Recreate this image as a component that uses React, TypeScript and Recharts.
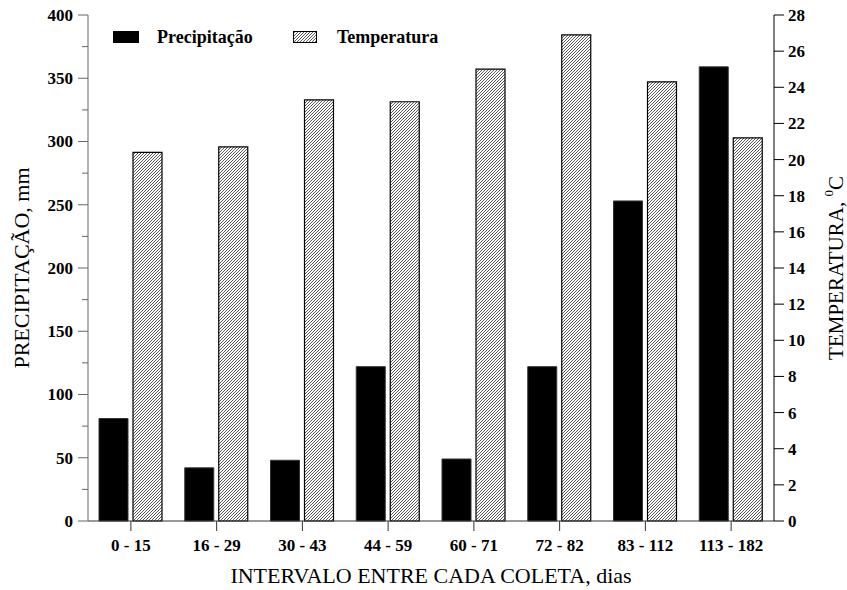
// Precipitation and temperature per sampling interval, dual-axis bar chart.
import { BarChart, Bar, XAxis, YAxis, Legend, Label } from "recharts";

const categories = ["0 - 15", "16 - 29", "30 - 43", "44 - 59", "60 - 71", "72 - 82", "83 - 112", "113 - 182"];
const precipitacao = [81, 42, 48, 122, 49, 122, 253, 359];
const temperatura = [20.4, 20.7, 23.3, 23.2, 25.0, 26.9, 24.3, 21.2];
const leftTicks = [0, 25, 50, 75, 100, 125, 150, 175, 200, 225, 250, 275, 300, 325, 350, 375, 400];
const rightTicks = [0, 2, 4, 6, 8, 10, 12, 14, 16, 18, 20, 22, 24, 26, 28];

const data = categories.map((intervalo, i) => ({
  intervalo,
  precipitacao: precipitacao[i],
  temperatura: temperatura[i],
}));

const FONT = '"Liberation Serif", "Times New Roman", serif';
const WIDTH = 847;
const HEIGHT = 590;
const MARGIN = { top: 15, right: 5, bottom: 0, left: 5 };
const LEFT_W = 83;
const RIGHT_W = 68;
const X_H = 69;
const AXIS_X = MARGIN.left + LEFT_W;
const PLOT_MID_Y = MARGIN.top + (HEIGHT - MARGIN.top - MARGIN.bottom - X_H) / 2;
const HATCH = "M0,3 L3,0 M-1,1 L1,-1 M2,4 L4,2";

const LeftTick = (props: any) => {
  const { y, payload } = props;
  const v = payload.value;
  const major = v % 50 === 0;
  return (
    <g>
      <line x1={AXIS_X - (major ? 10 : 6)} x2={AXIS_X} y1={y} y2={y} stroke="#666" />
      {major && (
        <text
          x={AXIS_X - 15}
          y={y}
          dy="0.35em"
          textAnchor="end"
          fontFamily={FONT}
          fontSize={17}
          fontWeight="bold"
          fill="#000"
        >
          {v}
        </text>
      )}
    </g>
  );
};

const LeftTitle = () => {
  const cx = 21;
  const cy = PLOT_MID_Y;
  return (
    <text
      x={cx}
      y={cy}
      transform={`rotate(-90 ${cx} ${cy})`}
      textAnchor="middle"
      dominantBaseline="central"
      fontFamily={FONT}
      fontSize={22}
      fill="#000"
    >
      PRECIPITAÇÃO, mm
    </text>
  );
};

const RightTitle = () => {
  const cx = WIDTH - 11;
  const cy = PLOT_MID_Y;
  return (
    <text
      x={cx}
      y={cy}
      transform={`rotate(-90 ${cx} ${cy})`}
      textAnchor="middle"
      dominantBaseline="central"
      fontFamily={FONT}
      fontSize={21}
      fill="#000"
    >
      TEMPERATURA,{" "}
      <tspan fontSize={13} dy={-8}>
        0
      </tspan>
      <tspan dy={8}>C</tspan>
    </text>
  );
};

const HatchSwatch = ({ w, h, id }: { w: number; h: number; id: string }) => (
  <svg width={w} height={h} style={{ display: "block" }}>
    <defs>
      <pattern id={id} width={3} height={3} patternUnits="userSpaceOnUse">
        <rect width={3} height={3} fill="#fff" />
        <path d={HATCH} stroke="#000" strokeWidth={0.65} />
      </pattern>
    </defs>
    <rect x={0.5} y={0.5} width={w - 1} height={h - 1} fill={`url(#${id})`} stroke="#000" />
  </svg>
);

const LegendContent = (props: any) => {
  const payload = props.payload || [];
  const lefts = [0, 180];
  return (
    <div style={{ position: "relative", width: 400, height: 24, fontFamily: FONT, fontWeight: "bold", fontSize: 18 }}>
      {payload.map((entry: any, i: number) => (
        <div key={entry.value} style={{ position: "absolute", left: lefts[i], top: 0, height: 24 }}>
          <div style={{ position: "absolute", left: 0, top: 6 }}>
            {entry.dataKey === "precipitacao" ? (
              <div style={{ width: 26, height: 12, background: "#000" }} />
            ) : (
              <HatchSwatch w={24} h={12} id="hatch-legend" />
            )}
          </div>
          <span style={{ position: "absolute", left: 44, top: 0, lineHeight: "24px", whiteSpace: "nowrap", color: "#000" }}>
            {entry.value}
          </span>
        </div>
      ))}
    </div>
  );
};

export default function App() {
  return (
    <div style={{ position: "absolute", left: 0, top: 0, width: WIDTH, height: HEIGHT, background: "#fff" }}>
      <BarChart width={WIDTH} height={HEIGHT} data={data} margin={MARGIN} barGap={5}>
        <defs>
          <pattern id="hatch" width={3} height={3} patternUnits="userSpaceOnUse">
            <rect width={3} height={3} fill="#fff" />
            <path d={HATCH} stroke="#000" strokeWidth={0.65} />
          </pattern>
        </defs>
        <XAxis
          dataKey="intervalo"
          height={X_H}
          interval={0}
          tickSize={10}
          tickMargin={8}
          stroke="#333"
          tick={{ fill: "#000", fontSize: 17, fontWeight: "bold", fontFamily: FONT }}
        >
          <Label
            value="INTERVALO ENTRE CADA COLETA, dias"
            position="insideBottom"
            offset={7}
            style={{ fontSize: 22, fontFamily: FONT, fill: "#000" }}
          />
        </XAxis>
        <YAxis
          yAxisId="left"
          width={LEFT_W}
          domain={[0, 400]}
          ticks={leftTicks}
          interval={0}
          tickLine={false}
          stroke="#666"
          tick={<LeftTick />}
        >
          <Label content={<LeftTitle />} />
        </YAxis>
        <YAxis
          yAxisId="right"
          orientation="right"
          width={RIGHT_W}
          domain={[0, 28]}
          ticks={rightTicks}
          interval={0}
          tickSize={10}
          tickMargin={4}
          stroke="#000"
          tick={{ fill: "#000", fontSize: 17, fontWeight: "bold", fontFamily: FONT }}
        >
          <Label content={<RightTitle />} />
        </YAxis>
        <Legend
          layout="vertical"
          align="center"
          verticalAlign="middle"
          wrapperStyle={{ top: 25, left: 113, width: 400, height: 24 }}
          content={<LegendContent />}
        />
        <Bar
          yAxisId="left"
          dataKey="precipitacao"
          name="Precipitação"
          fill="#000"
          stroke="#333"
          barSize={29}
          isAnimationActive={false}
        />
        <Bar
          yAxisId="right"
          dataKey="temperatura"
          name="Temperatura"
          fill="url(#hatch)"
          stroke="#000"
          strokeWidth={1.2}
          barSize={29}
          isAnimationActive={false}
        />
      </BarChart>
    </div>
  );
}
